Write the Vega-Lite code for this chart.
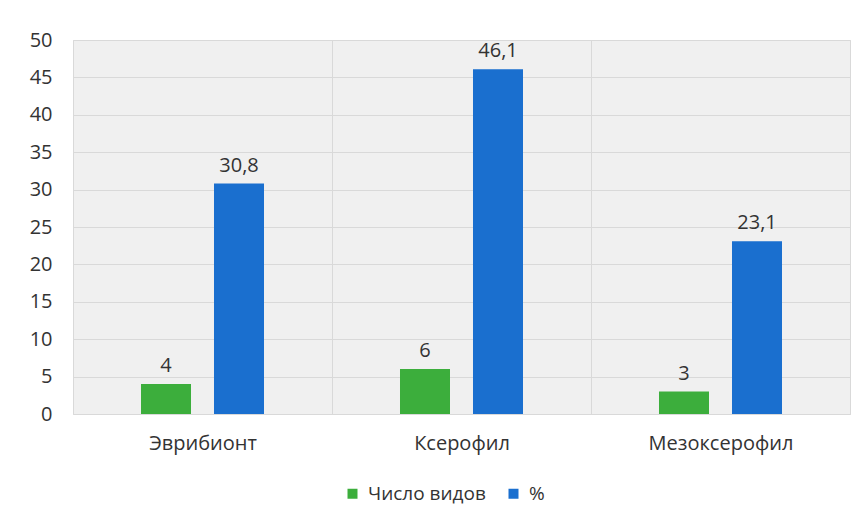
{
  "$schema": "https://vega.github.io/schema/vega-lite/v6.json",
  "width": 777,
  "height": 374,
  "autosize": {"type": "none"},
  "padding": {"left": 73, "top": 40, "right": 13, "bottom": 113},
  "background": "white",
  "config": {
    "locale": {"number": {"decimal": ",", "thousands": "\u00a0", "grouping": [3], "currency": ["", ""]}},
    "view": {"fill": "#f0f0f0", "stroke": "#d9d9d9"},
    "font": "Open Sans"
  },
  "data": {
    "values": [
      {"cat": "Эврибионт", "series": "Число видов", "value": 4},
      {"cat": "Эврибионт", "series": "%", "value": 30.8},
      {"cat": "Ксерофил", "series": "Число видов", "value": 6},
      {"cat": "Ксерофил", "series": "%", "value": 46.1},
      {"cat": "Мезоксерофил", "series": "Число видов", "value": 3},
      {"cat": "Мезоксерофил", "series": "%", "value": 23.1}
    ]
  },
  "encoding": {
    "x": {
      "field": "cat", "type": "nominal",
      "sort": ["Эврибионт", "Ксерофил", "Мезоксерофил"],
      "scale": {"paddingInner": 0, "paddingOuter": 0},
      "axis": {"title": null, "labelAngle": 0, "labelFontSize": 20, "labelColor": "#333333", "labelPadding": 19, "ticks": false, "domain": false, "grid": true, "tickBand": "extent", "gridColor": "#d9d9d9"}
    },
    "xOffset": {"field": "series", "type": "nominal", "sort": ["Число видов", "%"], "scale": {"paddingInner": 0.315, "paddingOuter": 0.9315}},
    "y": {
      "field": "value", "type": "quantitative",
      "scale": {"domain": [0, 50]},
      "axis": {"title": null, "values": [0, 5, 10, 15, 20, 25, 30, 35, 40, 45, 50], "grid": true, "gridColor": "#d9d9d9", "domain": false, "ticks": false, "labelFontSize": 20, "labelPadding": 21, "labelColor": "#333333"}
    }
  },
  "layer": [
    {
      "mark": {"type": "bar"},
      "encoding": {
        "color": {
          "field": "series", "type": "nominal", "sort": ["Число видов", "%"],
          "scale": {"range": ["#3cae3c", "#1a6fcf"]},
          "legend": {"title": null, "orient": "none", "legendX": 270, "legendY": 444, "direction": "horizontal", "symbolType": "square", "symbolSize": 100, "symbolStrokeWidth": 0, "labelFontSize": 19, "labelColor": "#333333", "columnPadding": 18, "labelOffset": 6}
        }
      }
    },
    {
      "mark": {"type": "text", "baseline": "bottom", "dy": -8, "fontSize": 20, "color": "#333333"},
      "encoding": {
        "text": {"field": "value", "type": "quantitative", "format": ".1~f"}
      }
    }
  ]
}
